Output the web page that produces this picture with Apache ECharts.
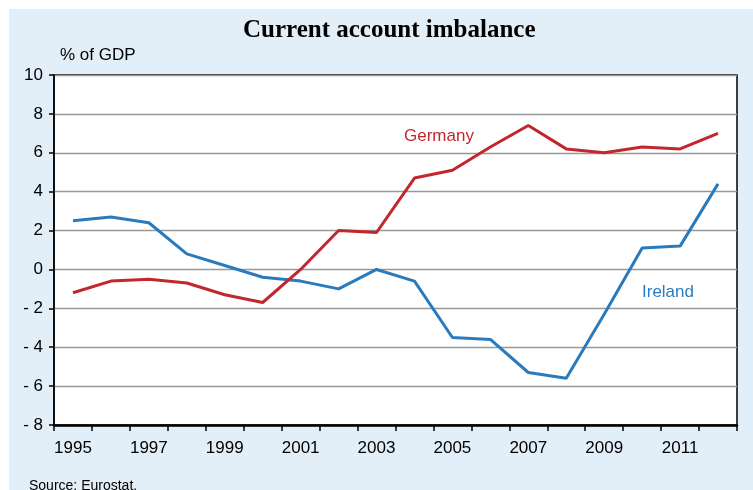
<!DOCTYPE html>
<html>
<head>
<meta charset="utf-8">
<script src="https://cdn.jsdelivr.net/npm/echarts@6/dist/echarts.min.js"></script>
<style>
html,body{margin:0;padding:0;background:#fff;}
#c{width:753px;height:490px;}
</style>
</head>
<body>
<div id="c"></div>
<script>
const years = ['1995','1996','1997','1998','1999','2000','2001','2002','2003','2004','2005','2006','2007','2008','2009','2010','2011','2012'];
const germany = [-1.2,-0.6,-0.5,-0.7,-1.3,-1.7,0.0,2.0,1.9,4.7,5.1,6.3,7.4,6.2,6.0,6.3,6.2,7.0];
const ireland = [2.5,2.7,2.4,0.8,0.2,-0.4,-0.6,-1.0,0.0,-0.6,-3.5,-3.6,-5.3,-5.6,-2.3,1.1,1.2,4.4];
const yTicks = {min:-8, max:10, interval:2};

const chart = echarts.init(document.getElementById('c'), null, {renderer:'canvas'});
const sans = 'Liberation Sans, Arial, sans-serif';
chart.setOption({
  animation:false,
  backgroundColor:'#fff',
  graphic:[
    {type:'rect', z:-10, shape:{x:9,y:9,width:744,height:481}, style:{fill:'#e2eef8'}},
    {type:'text', left:243, top:18, style:{text:'Current account imbalance', font:'bold 25px "Liberation Serif", "Times New Roman", serif', fill:'#000'}},
    {type:'text', left:60, top:47, style:{text:'% of GDP', font:'17px '+sans, fill:'#000'}},
    {type:'text', left:29, top:479, style:{text:'Source: Eurostat.', font:'14px '+sans, fill:'#000'}},
    {type:'text', left:404, top:128, z:10, style:{text:'Germany', font:'17px '+sans, fill:'#c1272d'}},
    {type:'text', left:642, top:284, z:10, style:{text:'Ireland', font:'17px '+sans, fill:'#2a7bbd'}}
  ],
  grid:{left:54, right:16, top:75, bottom:65, show:true, backgroundColor:'#fff', borderColor:'#000', borderWidth:1.5},
  xAxis:{
    type:'category', data:years, boundaryGap:true,
    axisLine:{onZero:false, lineStyle:{color:'#000', width:2.5}},
    axisTick:{show:true, interval:0, length:6, lineStyle:{color:'#000', width:1.5}},
    axisLabel:{interval:1, color:'#000', fontFamily:sans, fontSize:17, margin:15},
    splitLine:{show:false}
  },
  yAxis:{
    type:'value', min:yTicks.min, max:yTicks.max, interval:yTicks.interval,
    axisLine:{show:true, lineStyle:{color:'#000', width:1.5}},
    axisTick:{show:true, length:5, lineStyle:{color:'#000', width:1.5}},
    axisLabel:{color:'#000', fontFamily:sans, fontSize:17, margin:11,
      formatter:v => v < 0 ? '- ' + Math.abs(v) : String(v)},
    splitLine:{show:true, lineStyle:{color:'#999', width:1.3}}
  },
  series:[
    {name:'Ireland', type:'line', data:ireland, symbol:'none', lineStyle:{color:'#2a7bbd', width:3}, z:3},
    {name:'Germany', type:'line', data:germany, symbol:'none', lineStyle:{color:'#c1272d', width:3}, z:4}
  ]
});
</script>
</body>
</html>
